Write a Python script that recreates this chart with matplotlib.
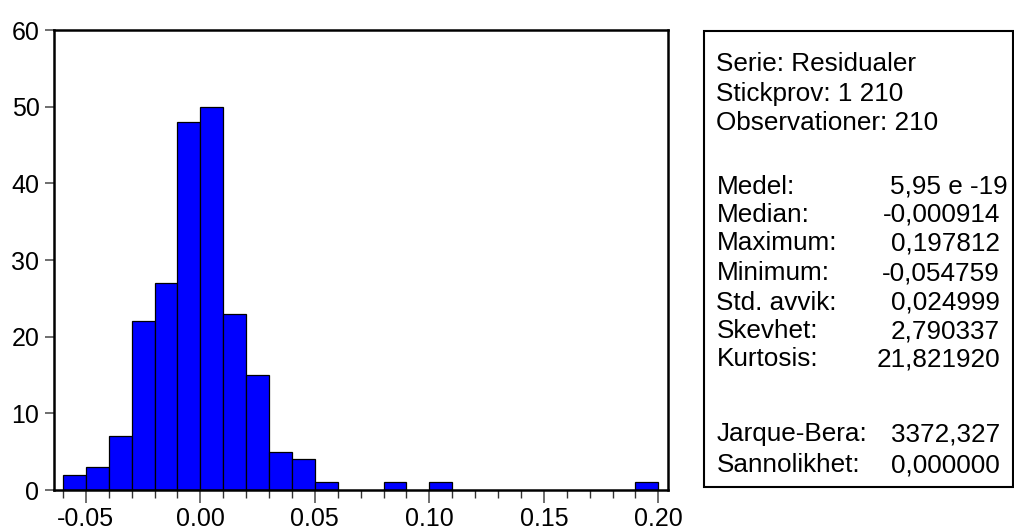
import numpy as np
import matplotlib
matplotlib.use("Agg")
import matplotlib.pyplot as plt
from matplotlib.patches import Rectangle

# ---- data ----
bin_edges_left = [-0.06, -0.05, -0.04, -0.03, -0.02, -0.01, 0.00, 0.01, 0.02, 0.03, 0.04, 0.05, 0.08, 0.10, 0.19]
counts = [2, 3, 7, 22, 27, 48, 50, 23, 15, 5, 4, 1, 1, 1, 1]
bin_width = 0.01
x_major_ticks = [-0.05, 0.00, 0.05, 0.10, 0.15, 0.20]
x_major_labels = ["-0.05", "0.00", "0.05", "0.10", "0.15", "0.20"]
y_ticks = [0, 10, 20, 30, 40, 50, 60]

header_lines = ["Serie: Residualer", "Stickprov: 1 210", "Observationer: 210"]
stat_names = ["Medel:", "Median:", "Maximum:", "Minimum:", "Std. avvik:", "Skevhet:", "Kurtosis:"]
stat_values = ["5,95 e -19", "-0,000914", "0,197812", "-0,054759", "0,024999", "2,790337", "21,821920"]
test_names = ["Jarque-Bera:", "Sannolikhet:"]
test_values = ["3372,327", "0,000000"]

plt.rcParams['font.family'] = ['Liberation Sans', 'DejaVu Sans']

W, H = 1014, 532
fig = plt.figure(figsize=(W / 100, H / 100), dpi=100)

def fx(px):
    return px / W

def fy(py):
    return 1 - py / H

ax = fig.add_axes([fx(54), fy(490), fx(667.7) - fx(54), fy(30) - fy(490)])
ax.bar(bin_edges_left, counts, width=bin_width, align='edge',
       color='#0000FF', edgecolor='black', linewidth=0.9)
ax.set_xlim(-0.0639, 0.2041)
ax.set_ylim(0, 60)

for s in ax.spines.values():
    s.set_linewidth(1.8)
    s.set_color('black')

ax.set_xticks(x_major_ticks)
ax.set_xticklabels(x_major_labels)
ax.set_xticks(np.round(np.arange(-0.06, 0.2001, 0.01), 2), minor=True)
ax.tick_params(axis='x', which='major', length=9.5, width=1.2, color='#555555',
               labelsize=18, pad=2.5)
ax.tick_params(axis='x', which='minor', length=6, width=1.0, color='#333333')
ax.set_yticks(y_ticks)
ax.tick_params(axis='y', which='major', length=6.5, width=1.2, color='#555555',
               labelsize=18, pad=4)
ax.tick_params(axis='y', which='minor', length=0)

# ---- statistics box ----
box = Rectangle((fx(704), fy(487)), fx(1013) - fx(704), fy(30.5) - fy(487),
                transform=fig.transFigure, fill=False, edgecolor='black', linewidth=1.5)
fig.patches.append(box)

fs = 18.8
label_x = 716.5
value_x = 1000

header_y = [61.5, 91.5, 120.5]
for t, y in zip(header_lines, header_y):
    fig.text(fx(label_x), fy(y), t, fontsize=fs, ha='left', va='center_baseline')

stat_y = [184, 212, 241, 270.5, 300, 328.5, 357]
for n, v, y in zip(stat_names, stat_values, stat_y):
    fig.text(fx(label_x), fy(y), n, fontsize=fs, ha='left', va='center_baseline')
    vx = value_x + (8 if 'e' in v else 0)
    fig.text(fx(vx), fy(y), v, fontsize=fs, ha='right', va='center_baseline')

test_y = [432, 463]
for n, v, y in zip(test_names, test_values, test_y):
    fig.text(fx(label_x), fy(y), n, fontsize=fs, ha='left', va='center_baseline')
    fig.text(fx(value_x), fy(y), v, fontsize=fs, ha='right', va='center_baseline')

fig.savefig("out.png", dpi=100)
